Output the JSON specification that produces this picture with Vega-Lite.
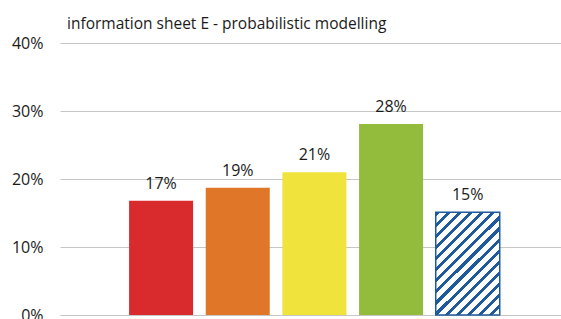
{
  "$schema": "https://vega.github.io/schema/vega-lite/v6.json",
  "width": 501,
  "height": 272,
  "autosize": {"type": "none"},
  "padding": {"left": 60, "top": 43, "right": 0, "bottom": 4},
  "background": "white",
  "title": {
    "text": "information sheet E - probabilistic modelling",
    "anchor": "start",
    "frame": "group",
    "font": "Open Sans",
    "fontSize": 15.5,
    "fontWeight": "normal",
    "color": "#1a1a1a",
    "dx": 7,
    "offset": 3
  },
  "config": {"view": {"stroke": null}},
  "data": {
    "values": [
      {"cat": "A", "value": 0.168},
      {"cat": "B", "value": 0.187},
      {"cat": "C", "value": 0.21},
      {"cat": "D", "value": 0.281},
      {"cat": "E", "value": 0.151}
    ]
  },
  "encoding": {
    "x": {
      "field": "cat",
      "type": "nominal",
      "axis": null,
      "scale": {"paddingInner": 0.165, "paddingOuter": 0.85, "align": 0.53}
    },
    "y": {
      "field": "value",
      "type": "quantitative",
      "scale": {"domain": [0, 0.4], "nice": false},
      "axis": {
        "values": [0, 0.1, 0.2, 0.3, 0.4],
        "format": ".0%",
        "title": null,
        "domain": false,
        "ticks": false,
        "labelPadding": 17,
        "gridColor": "#c6c6c6",
        "gridWidth": 1,
        "labelFont": "Open Sans",
        "labelFontSize": 16,
        "labelColor": "#1a1a1a"
      }
    }
  },
  "layer": [
    {
      "transform": [{"filter": "datum.cat != 'E'"}],
      "mark": {"type": "bar"},
      "encoding": {
        "color": {
          "field": "cat",
          "type": "nominal",
          "legend": null,
          "scale": {"domain": ["A", "B", "C", "D"], "range": ["#d92b2e", "#e07628", "#f0e33c", "#93bb3c"]}
        }
      }
    },
    {
      "transform": [{"filter": "datum.cat == 'E'"}],
      "mark": {
        "type": "bar",
        "stroke": "#1f5a9e",
        "strokeWidth": 1.5,
        "fill": {
          "gradient": "linear",
          "x1": 0, "y1": 0, "x2": 0.727, "y2": 1.17,
          "stops": [
            {"offset": 0, "color": "#1f5a9e"}, {"offset": 0.025, "color": "#1f5a9e"}, {"offset": 0.025, "color": "#ffffff"}, {"offset": 0.0667, "color": "#ffffff"},
            {"offset": 0.0667, "color": "#1f5a9e"}, {"offset": 0.0917, "color": "#1f5a9e"}, {"offset": 0.0917, "color": "#ffffff"}, {"offset": 0.1333, "color": "#ffffff"},
            {"offset": 0.1333, "color": "#1f5a9e"}, {"offset": 0.1583, "color": "#1f5a9e"}, {"offset": 0.1583, "color": "#ffffff"}, {"offset": 0.2, "color": "#ffffff"},
            {"offset": 0.2, "color": "#1f5a9e"}, {"offset": 0.225, "color": "#1f5a9e"}, {"offset": 0.225, "color": "#ffffff"}, {"offset": 0.2667, "color": "#ffffff"},
            {"offset": 0.2667, "color": "#1f5a9e"}, {"offset": 0.2917, "color": "#1f5a9e"}, {"offset": 0.2917, "color": "#ffffff"}, {"offset": 0.3333, "color": "#ffffff"},
            {"offset": 0.3333, "color": "#1f5a9e"}, {"offset": 0.3583, "color": "#1f5a9e"}, {"offset": 0.3583, "color": "#ffffff"}, {"offset": 0.4, "color": "#ffffff"},
            {"offset": 0.4, "color": "#1f5a9e"}, {"offset": 0.425, "color": "#1f5a9e"}, {"offset": 0.425, "color": "#ffffff"}, {"offset": 0.4667, "color": "#ffffff"},
            {"offset": 0.4667, "color": "#1f5a9e"}, {"offset": 0.4917, "color": "#1f5a9e"}, {"offset": 0.4917, "color": "#ffffff"}, {"offset": 0.5333, "color": "#ffffff"},
            {"offset": 0.5333, "color": "#1f5a9e"}, {"offset": 0.5583, "color": "#1f5a9e"}, {"offset": 0.5583, "color": "#ffffff"}, {"offset": 0.6, "color": "#ffffff"},
            {"offset": 0.6, "color": "#1f5a9e"}, {"offset": 0.625, "color": "#1f5a9e"}, {"offset": 0.625, "color": "#ffffff"}, {"offset": 0.6667, "color": "#ffffff"},
            {"offset": 0.6667, "color": "#1f5a9e"}, {"offset": 0.6917, "color": "#1f5a9e"}, {"offset": 0.6917, "color": "#ffffff"}, {"offset": 0.7333, "color": "#ffffff"},
            {"offset": 0.7333, "color": "#1f5a9e"}, {"offset": 0.7583, "color": "#1f5a9e"}, {"offset": 0.7583, "color": "#ffffff"}, {"offset": 0.8, "color": "#ffffff"},
            {"offset": 0.8, "color": "#1f5a9e"}, {"offset": 0.825, "color": "#1f5a9e"}, {"offset": 0.825, "color": "#ffffff"}, {"offset": 0.8667, "color": "#ffffff"},
            {"offset": 0.8667, "color": "#1f5a9e"}, {"offset": 0.8917, "color": "#1f5a9e"}, {"offset": 0.8917, "color": "#ffffff"}, {"offset": 0.9333, "color": "#ffffff"},
            {"offset": 0.9333, "color": "#1f5a9e"}, {"offset": 0.9583, "color": "#1f5a9e"}, {"offset": 0.9583, "color": "#ffffff"}, {"offset": 1, "color": "#ffffff"}
          ]
        }
      }
    },
    {
      "mark": {
        "type": "text",
        "baseline": "alphabetic",
        "dy": -12,
        "font": "Open Sans",
        "fontSize": 16,
        "color": "#1a1a1a"
      },
      "encoding": {
        "text": {"field": "value", "type": "quantitative", "format": ".0%"}
      }
    }
  ]
}
